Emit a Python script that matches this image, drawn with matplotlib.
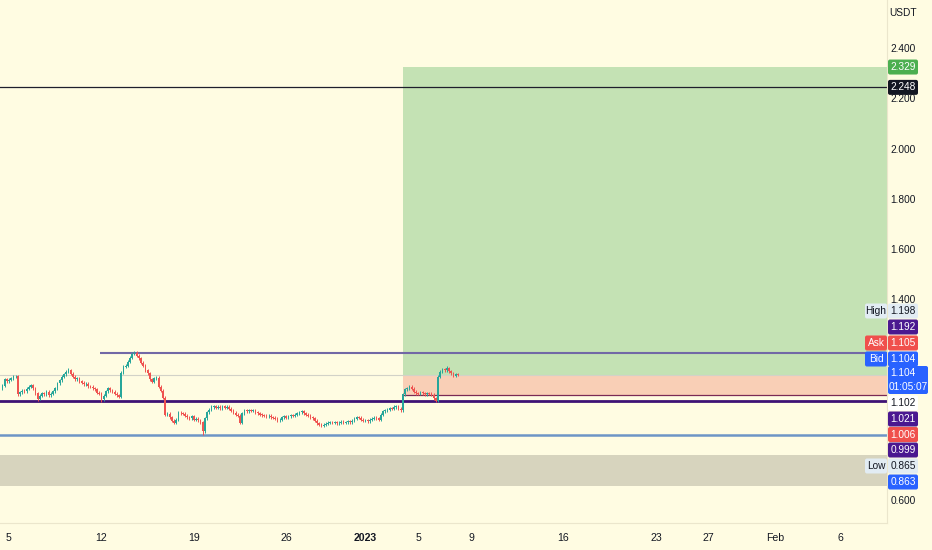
import matplotlib
matplotlib.use("Agg")
import matplotlib.pyplot as plt
from matplotlib.patches import Rectangle, FancyBboxPatch

plt.rcParams['font.family'] = ['Liberation Sans', 'DejaVu Sans']

W, H = 932, 550

# 4h closes (USDT), first candle opens Dec 4 12:00, one row per day
closes = [
    1.060, 1.085, 1.078, 1.084, 1.090, 1.097,
    1.098, 1.025, 1.033, 1.040, 1.038, 1.048,
    1.055, 1.062, 1.050, 1.030, 1.008, 1.020,
    1.030, 1.026, 1.035, 1.022, 1.028, 1.038,
    1.050, 1.070, 1.082, 1.095, 1.105, 1.115,
    1.122, 1.108, 1.095, 1.085, 1.090, 1.078,
    1.072, 1.065, 1.068, 1.058, 1.055, 1.050,
    1.045, 1.032, 1.028, 1.005, 1.020, 1.038,
    1.050, 1.042, 1.035, 1.028, 1.022, 1.015,
    1.112, 1.135, 1.140, 1.155, 1.172, 1.188,
    1.192, 1.180, 1.170, 1.152, 1.140, 1.122,
    1.110, 1.085, 1.075, 1.090, 1.092, 1.055,
    1.040, 1.012, 0.945, 0.948, 0.935, 0.920,
    0.912, 0.925, 0.952, 0.950, 0.948, 0.940,
    0.935, 0.930, 0.938, 0.925, 0.928, 0.922,
    0.915, 0.878, 0.930, 0.955, 0.965, 0.975,
    0.978, 0.972, 0.976, 0.970, 0.978, 0.972,
    0.975, 0.968, 0.960, 0.952, 0.945, 0.940,
    0.912, 0.950, 0.962, 0.958, 0.963, 0.960,
    0.962, 0.955, 0.950, 0.945, 0.943, 0.940,
    0.938, 0.940, 0.935, 0.932, 0.928, 0.922,
    0.925, 0.935, 0.938, 0.932, 0.938, 0.942,
    0.940, 0.945, 0.950, 0.955, 0.958, 0.950,
    0.945, 0.940, 0.935, 0.930, 0.920, 0.910,
    0.905, 0.900, 0.905, 0.908, 0.912, 0.915,
    0.912, 0.915, 0.910, 0.913, 0.916, 0.912,
    0.914, 0.918, 0.915, 0.920, 0.928, 0.935,
    0.932, 0.925, 0.920, 0.922, 0.918, 0.925,
    0.928, 0.932, 0.930, 0.925, 0.945, 0.958,
    0.962, 0.965, 0.970, 0.968, 0.975, 0.978,
    0.968, 0.962, 1.025, 1.045, 1.050, 1.055,
    1.048, 1.035, 1.030, 1.028, 1.032, 1.030,
    1.025, 1.030, 1.028, 1.024, 1.010, 1.000,
    1.095, 1.115, 1.125, 1.122, 1.130, 1.118,
    1.110, 1.100, 1.106, 1.104,
]
first_open = 1.050
first_day = -0.5           # days after Dec 5 00:00
peak_high = {60: 1.198, 30: 1.132, 202: 1.140}
dip_low = {91: 0.865, 45: 0.995, 197: 0.993, 16: 1.000}

day_offsets = [0, 7, 14, 21, 27, 31, 35, 42, 49, 53, 58, 63]
day_labels = ["5", "12", "19", "26", "2023", "5", "9", "16", "23", "27", "Feb", "6"]
price_ticks = [0.6, 1.4, 1.6, 1.8, 2.0, 2.2, 2.4]

# long position tool
entry_price = 1.104
target_price = 2.329
stop_price = 1.021
box_start = 29.83

resistance = 2.248
range_high = 1.192
range_high_from = 6.9
support = 0.999
low_line = 0.863
zone_low, zone_high = 0.660, 0.784
last_price = 1.104
countdown = "01:05:07"

marker_tags = ["High", "", "Ask", "Bid", "", "", "", "", "Low", ""]
marker_values = [1.198, 1.192, 1.105, 1.104, 1.102, 1.021, 1.006, 0.999, 0.865, 0.863]

BG = "#fffce2"
UP, DOWN = "#26a69a", "#ef5350"
PURPLE, RED, BLUE, GREEN = "#4a1890", "#f0504c", "#2962ff", "#4caf50"
PALE = "#e2ecf3"
INK = "#131722"
FS = 7.3

marker_faces = [PALE, PURPLE, RED, BLUE, "white", PURPLE, RED, PURPLE, PALE, BLUE]
marker_inks = [INK, "white", "white", "white", INK, "white", "white", "white", INK, "white"]
marker_slots = [311, 327, 343, 359, 403, 419, 434.5, 450, 466, 482]   # stacked label centres, px

fig = plt.figure(figsize=(W / 100, H / 100), dpi=100)
fig.patch.set_facecolor(BG)
ax = fig.add_axes([0, 27 / H, 887 / W, 523 / H])
ax.set_facecolor(BG)
xmax = 66.5
ax.set_xlim(-0.68, xmax)
ax.set_ylim(0.513, 2.596)

# zones and levels
ax.axhspan(zone_low, zone_high, color="#d7d4be", lw=0, zorder=1)
ax.add_patch(Rectangle((box_start, entry_price), xmax - box_start, target_price - entry_price,
                       facecolor="#c4e2b4", edgecolor="none", zorder=1))
ax.add_patch(Rectangle((box_start, stop_price), xmax - box_start, entry_price - stop_price,
                       facecolor="#f9cfb6", edgecolor="none", zorder=1))
ax.hlines(stop_price, box_start, xmax, color="#7a2a55", lw=0.9, zorder=2)
ax.axhline(resistance, color="#1e1e2c", lw=0.9, zorder=2)
ax.hlines(range_high, range_high_from, xmax, color="#7268a6", lw=1.5, zorder=2)
ax.axhline(support, color="#3e1275", lw=2.0, zorder=2)
ax.axhline(low_line, color="#6d95c6", lw=1.8, zorder=2)
ax.axhline(last_price, color="#d2d2c8", lw=0.8, zorder=2)

# candles
step = 1 / 6
opens = [first_open] + closes[:-1]
for i, (o, c) in enumerate(zip(opens, closes)):
    x = first_day + i * step
    col = UP if c >= o else DOWN
    hi = peak_high.get(i, max(o, c) + 0.006)
    lo = dip_low.get(i, min(o, c) - 0.006)
    ax.vlines(x, lo, hi, color=col, lw=0.7, zorder=3)
    ax.bar(x, max(abs(c - o), 0.003), bottom=min(o, c), width=step * 0.75,
           color=col, lw=0, zorder=4)

ax.set_yticks([])
ax.set_xticks(day_offsets, day_labels)
ax.tick_params(axis="x", length=0, pad=7, labelsize=FS + 0.3, colors=INK)
for lab in ax.get_xticklabels():
    if lab.get_text() == "2023":
        lab.set_fontweight("bold")
for side in ("top", "left"):
    ax.spines[side].set_visible(False)
ax.spines["bottom"].set_color("#ebe6cc")
ax.spines["right"].set_color("#ebe6cc")

# price scale overlay, pixel coordinates
ov = fig.add_axes([0, 0, 1, 1], zorder=10)
ov.set_xlim(0, W)
ov.set_ylim(H, 0)
ov.axis("off")


def py(v):
    return H - ax.transData.transform((0, v))[1]


def label(x0, x1, yc, text, face, ink, h=15):
    ov.add_patch(FancyBboxPatch((x0, yc - h / 2), x1 - x0, h,
                                boxstyle="round,pad=0,rounding_size=2",
                                facecolor=face, edgecolor="none"))
    ov.text((x0 + x1) / 2, yc, text, ha="center", va="center", color=ink, fontsize=FS)


ov.text(903, 13, "USDT", ha="center", va="center", fontsize=FS, color=INK)
for v in price_ticks:
    ov.text(903, py(v), f"{v:.3f}", ha="center", va="center", fontsize=FS, color=INK)

label(888, 918, py(target_price), f"{target_price:.3f}", GREEN, "white")
label(888, 918, py(resistance), f"{resistance:.3f}", INK, "white")

for tag, val, face, ink, yc in zip(marker_tags, marker_values, marker_faces, marker_inks, marker_slots):
    label(888, 918, yc, f"{val:.3f}", face, ink)
    if tag:
        label(865, 887, yc, tag, face, ink)

ov.add_patch(FancyBboxPatch((888, 366), 40, 28, boxstyle="round,pad=0,rounding_size=2",
                            facecolor=BLUE, edgecolor="none"))
ov.text(903, 373, f"{last_price:.3f}", ha="center", va="center", fontsize=FS, color="white")
ov.text(908, 387, countdown, ha="center", va="center", fontsize=FS, color="white")

fig.savefig("out.png", dpi=100, facecolor=BG)
